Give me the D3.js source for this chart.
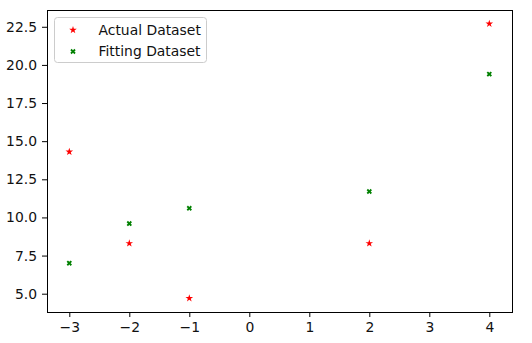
<!DOCTYPE html>
<html>
<head>
<meta charset="utf-8">
<script src="https://cdn.jsdelivr.net/npm/d3@7"></script>
<style>
  body { margin: 0; background: #fff; }
  text { font-family: "DejaVu Sans", sans-serif; }
</style>
</head>
<body>
<div id="chart"></div>
<script>
// data
const xValues = [-3, -2, -1, 2, 4];
const actualValues = [14.3, 8.3, 4.7, 8.3, 22.7];
const fittingValues = [7.0, 9.6, 10.6, 11.7, 19.4];
const seriesNames = ["Actual Dataset", "Fitting Dataset"];
const xTicks = [-3, -2, -1, 0, 1, 2, 3, 4];
const yTicks = [5.0, 7.5, 10.0, 12.5, 15.0, 17.5, 20.0, 22.5];

const WIDTH = 532, HEIGHT = 343;
const PAD = {left: 47, right: 20, top: 10, bottom: 31};
const FONT = "13.9px";

// pad the extent by 5% like matplotlib does
function padded(ext) {
  let d = (ext[1] - ext[0]) * 0.05;
  return [ext[0] - d, ext[1] + d];
}

let svg = d3.select("#chart").append("svg")
  .attr("width", WIDTH)
  .attr("height", HEIGHT);

let allY = actualValues.concat(fittingValues);
let xScale = d3.scaleLinear()
  .domain(padded(d3.extent(xValues)))
  .range([PAD.left + 1.3, WIDTH - PAD.right - 1.7]);
let yScale = d3.scaleLinear()
  .domain(padded(d3.extent(allY)))
  .range([HEIGHT - PAD.bottom, PAD.top]);

// axes
let xAxis = d3.axisBottom(xScale).tickValues(xTicks).tickSize(5).tickPadding(5)
  .tickFormat(d3.format("d"));
let yAxis = d3.axisLeft(yScale).tickValues(yTicks).tickSize(5).tickPadding(5)
  .tickFormat(d3.format(".1f"));

svg.append("g")
  .attr("transform", `translate(0, ${HEIGHT - PAD.bottom})`)
  .call(xAxis)
  .call(g => g.select(".domain").remove())
  .selectAll("text").style("font-size", FONT).attr("fill", "#111");
svg.append("g")
  .attr("transform", `translate(${PAD.left}, 0)`)
  .call(yAxis)
  .call(g => g.select(".domain").remove())
  .selectAll("text").style("font-size", FONT).attr("fill", "#111");
svg.selectAll(".tick line").attr("stroke", "#000");

// frame
svg.append("rect")
  .attr("x", PAD.left + 0.5)
  .attr("y", PAD.top + 0.5)
  .attr("width", WIDTH - PAD.left - PAD.right)
  .attr("height", HEIGHT - PAD.top - PAD.bottom)
  .attr("fill", "none")
  .attr("stroke", "#000")
  .attr("stroke-width", 1);

let star = d3.symbol().type(d3.symbolStar).size(18);
let cross = d3.symbol().type(d3.symbolCross).size(18);

// actual points
svg.append("g").selectAll("path")
  .data(xValues.map((x, i) => ({x: x, y: actualValues[i]})))
  .join("path")
  .attr("d", star)
  .attr("fill", "red")
  .attr("transform", d => `translate(${xScale(d.x)}, ${yScale(d.y)})`);

// fitting points
svg.append("g").selectAll("path")
  .data(xValues.map((x, i) => ({x: x, y: fittingValues[i]})))
  .join("path")
  .attr("d", cross)
  .attr("fill", "green")
  .attr("transform", d => `translate(${xScale(d.x)}, ${yScale(d.y)}) rotate(45)`);

// legend
let legend = svg.append("g").attr("transform", "translate(54, 17)");
legend.append("rect")
  .attr("x", 0.5).attr("y", 0.5)
  .attr("width", 152).attr("height", 45)
  .attr("rx", 3)
  .attr("fill", "#fff").attr("fill-opacity", 0.8)
  .attr("stroke", "#ccc");
let legendRows = [
  {name: seriesNames[0], sym: star, color: "red", rot: 0},
  {name: seriesNames[1], sym: cross, color: "green", rot: 45}
];
legendRows.forEach((r, i) => {
  let y = 13 + i * 21.5;
  legend.append("path")
    .attr("d", r.sym)
    .attr("fill", r.color)
    .attr("transform", `translate(19, ${y}) rotate(${r.rot})`);
  legend.append("text")
    .attr("x", 44.5).attr("y", y)
    .attr("dy", "0.35em")
    .style("font-size", FONT)
    .attr("fill", "#111")
    .text(r.name);
});
</script>
</body>
</html>
